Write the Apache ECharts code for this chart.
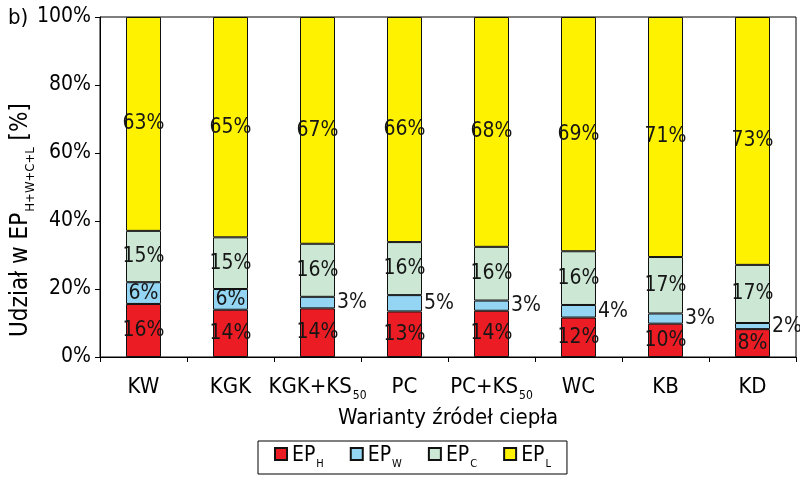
<!DOCTYPE html>
<html>
<head>
<meta charset="utf-8">
<script src="https://cdn.jsdelivr.net/npm/echarts@6/dist/echarts.min.js"></script>
<style>html,body{margin:0;padding:0;background:#fff}#c{width:800px;height:480px}</style>
</head>
<body>
<div id="c"></div>
<script>
var categories = ['KW', 'KGK', 'KGK+KS50', 'PC', 'PC+KS50', 'WC', 'KB', 'KD'];
var epH = [15.6, 13.9, 14.3, 13.4, 13.6, 11.6, 9.8, 8.2];
var epW = [6.4, 6.1, 3.4, 4.8, 3.0, 3.7, 3.0, 1.8];
var epC = [15.1, 15.2, 15.6, 15.6, 15.8, 15.8, 16.6, 17.1];
var epL = [62.9, 64.8, 66.7, 66.2, 67.6, 68.9, 70.6, 72.9];
var yTicks = [0, 20, 40, 60, 80, 100];
var seriesNames = ['EP_H', 'EP_W', 'EP_C', 'EP_L'];

var FONT = '"DejaVu Sans Condensed", "Liberation Sans Narrow", sans-serif';
var colors = ['#ec1c24', '#93d5f2', '#cce8d5', '#fff200'];

var chart = echarts.init(document.getElementById('c'), null, {renderer: 'canvas'});

function pct(p) { return Math.round(p.value) + '%'; }

function mkSeries(idx, arr, smallThreshold) {
  return {
    name: seriesNames[idx],
    type: 'bar',
    stack: 'all',
    barWidth: 35,
    itemStyle: {color: colors[idx], borderColor: '#111', borderWidth: 1},
    label: {
      show: true, position: 'inside', formatter: pct,
      fontFamily: FONT, fontSize: 21, color: '#161616'
    },
    data: arr.map(function (v) {
      var item = {value: v};
      if (smallThreshold && v < smallThreshold) {
        item.label = {position: 'right', distance: 2};
      }
      return item;
    })
  };
}

var richSub = {
  a: {fontFamily: FONT, fontSize: 22, color: '#000', verticalAlign: 'bottom', lineHeight: 24},
  s: {fontFamily: FONT, fontSize: 12, color: '#000', verticalAlign: 'bottom', lineHeight: 18, padding: [0, 0, -4, 1]}
};
var richName = {
  a: {fontFamily: FONT, fontSize: 24, color: '#000', verticalAlign: 'bottom', lineHeight: 26},
  s: {fontFamily: FONT, fontSize: 13, color: '#000', verticalAlign: 'bottom', lineHeight: 19, padding: [0, 0, -4, 1]}
};

var option = {
  animation: false,
  textStyle: {fontFamily: FONT},
  grid: {left: 100, right: 4, top: 17, bottom: 123, show: true, borderColor: '#000', borderWidth: 1, outerBoundsMode: 'none', containLabel: false},
  legend: {
    left: 258, top: 441,
    padding: [4, 16, 4, 16],
    borderColor: '#000', borderWidth: 1,
    itemWidth: 12, itemHeight: 12, itemGap: 26,
    icon: 'rect',
    data: seriesNames,
    formatter: function (n) {
      var p = n.split('_');
      return '{a|' + p[0] + '}{s|' + p[1] + '}';
    },
    textStyle: {
      rich: {
        a: {fontFamily: FONT, fontSize: 21, color: '#000', verticalAlign: 'bottom', lineHeight: 24},
        s: {fontFamily: FONT, fontSize: 11, color: '#000', verticalAlign: 'bottom', lineHeight: 18, padding: [0, 0, -4, 1]}
      }
    }
  },
  graphic: [{
    type: 'text', left: 8, top: 7,
    style: {text: 'b)', font: '22px ' + FONT, fill: '#000'}
  }, {
    type: 'text', x: 20, y: 220, rotation: Math.PI / 2,
    style: {
      text: '{a|Udział w EP}{s|H+W+C+L}{a| [%]}',
      align: 'center', verticalAlign: 'middle',
      rich: richName
    }
  }],
  xAxis: {
    type: 'category',
    data: categories,
    name: 'Warianty źródeł ciepła',
    nameLocation: 'middle',
    nameGap: 47,
    nameTextStyle: {fontFamily: FONT, fontSize: 22, color: '#000'},
    axisLine: {lineStyle: {color: '#000', width: 1}},
    axisTick: {show: true, length: 5, lineStyle: {color: '#000'}},
    axisLabel: {
      margin: 17, interval: 0,
      formatter: function (v) {
        var m = v.match(/^(.*?)(\d+)$/);
        if (m) return '{a|' + m[1] + '}{s|' + m[2] + '}';
        return '{a|' + v + '}';
      },
      rich: richSub
    }
  },
  yAxis: {
    type: 'value',
    min: yTicks[0], max: yTicks[yTicks.length - 1], interval: 20,
    axisLine: {show: true, lineStyle: {color: '#000', width: 1}},
    axisTick: {show: true, length: 5, lineStyle: {color: '#000'}},
    splitLine: {show: false},
    axisLabel: {margin: 9, formatter: '{value}%', fontFamily: FONT, fontSize: 21, color: '#000'}
  },
  series: [
    mkSeries(0, epH),
    mkSeries(1, epW, 5.5),
    mkSeries(2, epC),
    mkSeries(3, epL)
  ]
};
chart.setOption(option);
</script>
</body>
</html>
